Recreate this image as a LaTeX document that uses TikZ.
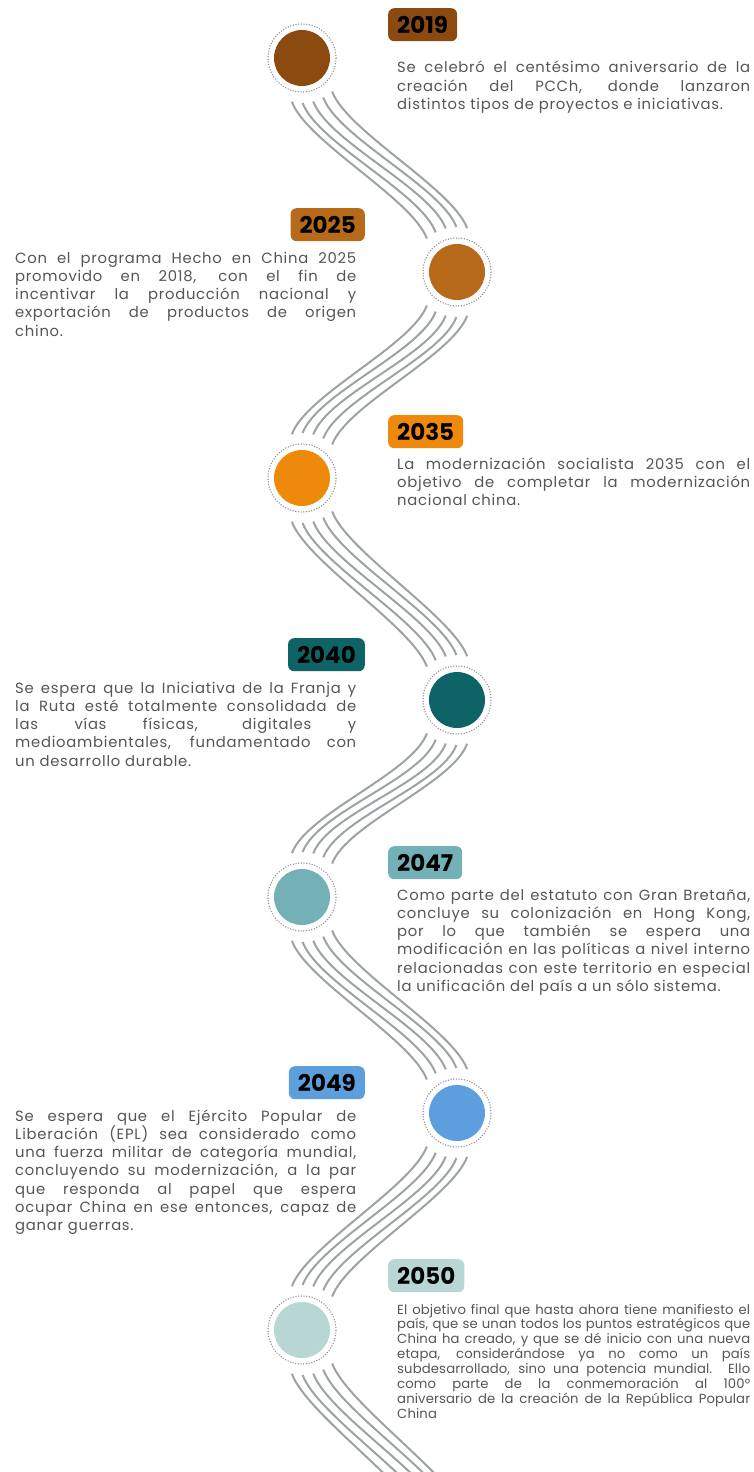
\documentclass[tikz,border=0pt]{standalone}
\usepackage{fontspec}
\newfontfamily\bodyfont{Poppins}[LetterSpace=5]
\newfontfamily\tightfont{Poppins}[LetterSpace=1]
\newfontfamily\yearfont{Poppins}
\usetikzlibrary{calc}
\tolerance=9999
\hyphenpenalty=10000
\exhyphenpenalty=10000
\hbadness=10000
\definecolor{k19}{HTML}{8B4A0F}
\definecolor{k25}{HTML}{B86A1B}
\definecolor{k35}{HTML}{EE890B}
\definecolor{k40}{HTML}{0E6367}
\definecolor{k47}{HTML}{74B1B6}
\definecolor{k49}{HTML}{5D9FDC}
\definecolor{k50}{HTML}{B8D7D4}
\definecolor{wavegray}{HTML}{9DA2A7}
\definecolor{ringgray}{HTML}{8C9196}
\definecolor{txt}{HTML}{555555}
\newcommand\wavedown[3]{%
  \foreach \i in {0,...,4}{%
    \pgfmathsetmacro\aa{-13+13.75*\i}%
    \pgfmathsetmacro\bb{-13+13.75*(4-\i)}%
    \draw[wave] ($(#1)+({(#3)*45*sin(\aa)},{45*cos(\aa)})$) .. controls +({(#3)*15},40) and +({0-(#3)*15},-40) .. ($(#2)+({0-(#3)*45*sin(\bb)},{0-45*cos(\bb)})$);
  }}
\tikzset{
  dot/.style={circle, inner sep=0pt, minimum size=56pt},
  ring/.style={draw=ringgray, line width=1.5pt, dash pattern=on 0pt off 2.7pt, line cap=round},
  wave/.style={draw=wavegray, line width=2pt},
  yearbox/.style={rounded corners=6pt, minimum height=33pt, inner xsep=9pt, inner ysep=0pt, text=black, font=\yearfont\bfseries\fontsize{23}{23}\selectfont},
  desc/.style={inner sep=0pt, text width=353pt, align=justify, text=txt, font=\bodyfont\fontsize{14.8}{18.3}\selectfont},
  descl/.style={desc, text width=341pt},
  desct/.style={desc, font=\tightfont\fontsize{13.2}{14.9}\selectfont}
}
\begin{document}
\begin{tikzpicture}[x=1pt, y=-1pt]
\useasboundingbox (0,0) rectangle (754,1472);
% circles
\node[dot, fill=k19] (c1) at (302,58) {};
\node[dot, fill=k25] (c2) at (457,272) {};
\node[dot, fill=k35] (c3) at (302,478) {};
\node[dot, fill=k40] (c4) at (457,700) {};
\node[dot, fill=k47] (c5) at (302,897) {};
\node[dot, fill=k49] (c6) at (457,1113) {};
\node[dot, fill=k50] (c7) at (302,1330) {};
\coordinate (c8) at (457,1560);
\foreach \c in {c1,c2,c3,c4,c5,c6,c7}{\draw[ring] (\c.center) circle[radius=34pt];}
% waves
\begin{scope}
\clip (0,0) rectangle (754,1472);
\wavedown{c1}{c2}{1}
\wavedown{c2}{c3}{-1}
\wavedown{c3}{c4}{1}
\wavedown{c4}{c5}{-1}
\wavedown{c5}{c6}{1}
\wavedown{c6}{c7}{-1}
\wavedown{c7}{c8}{1}
\end{scope}
% year boxes
\node[yearbox, fill=k19, anchor=north west] (y1) at (388,8) {2019};
\node[yearbox, fill=k25, anchor=north east] (y2) at (365,208) {2025};
\node[yearbox, fill=k35, anchor=north west] (y3) at (388,415) {2035};
\node[yearbox, fill=k40, anchor=north east] (y4) at (365,638) {2040};
\node[yearbox, fill=k47, anchor=north west] (y5) at (388,846) {2047};
\node[yearbox, fill=k49, anchor=north east] (y6) at (365,1066) {2049};
\node[yearbox, fill=k50, anchor=north west] (y7) at (388,1259) {2050};
% texts
\node[desc, anchor=base west] (t1) at (397,73) {Se celebró el centésimo aniversario de la\linebreak creación del PCCh, donde lanzaron\linebreak distintos tipos de proyectos e iniciativas.};
\node[descl, anchor=base west] (t2) at (15,263) {Con el programa Hecho en China 2025\linebreak promovido en 2018, con el fin de\linebreak incentivar la producción nacional y\linebreak exportación de productos de origen\linebreak chino.};
\node[desc, anchor=base west] (t3) at (397,469) {La modernización socialista 2035 con el\linebreak objetivo de completar la modernización\linebreak nacional china.};
\node[descl, anchor=base west] (t4) at (15,693) {Se espera que la Iniciativa de la Franja y\linebreak la Ruta esté totalmente consolidada de\linebreak las vías físicas, digitales y\linebreak medioambientales, fundamentado con\linebreak un desarrollo durable.};
\node[desc, anchor=base west] (t5) at (397,900) {Como parte del estatuto con Gran Bretaña,\linebreak concluye su colonización en Hong Kong,\linebreak por lo que también se espera una\linebreak modificación en las políticas a nivel interno\linebreak relacionadas con este territorio en especial\linebreak la unificación del país a un sólo sistema.};
\node[descl, anchor=base west] (t6) at (15,1121) {Se espera que el Ejército Popular de\linebreak Liberación (EPL) sea considerado como\linebreak una fuerza militar de categoría mundial,\linebreak concluyendo su modernización, a la par\linebreak que responda al papel que espera\linebreak ocupar China en ese entonces, capaz de\linebreak ganar guerras.};
\node[desct, anchor=base west] (t7) at (397,1314) {El objetivo final que hasta ahora tiene manifiesto el\linebreak país, que se unan todos los puntos estratégicos que\linebreak China ha creado, y que se dé inicio con una nueva\linebreak etapa, considerándose ya no como un país\linebreak subdesarrollado, sino una potencia mundial. Ello\linebreak como parte de la conmemoración al 100°\linebreak aniversario de la creación de la República Popular\linebreak China};
\end{tikzpicture}
\end{document}
